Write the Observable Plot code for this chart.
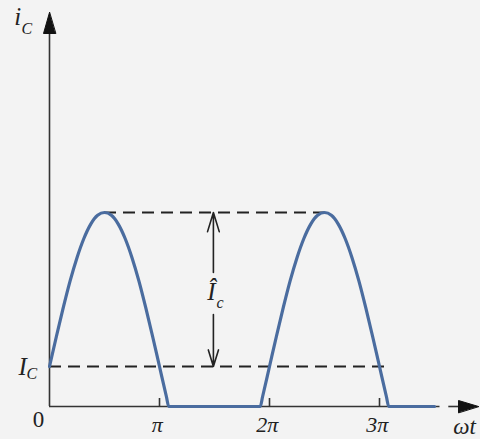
<!DOCTYPE html>
<html><head><meta charset="utf-8">
<script src="https://cdn.jsdelivr.net/npm/d3@7"></script>
<script src="https://cdn.jsdelivr.net/npm/@observablehq/plot@0.6"></script>
<style>
html,body{margin:0;padding:0;background:#f3f3f3;}
svg{display:block;}
</style></head><body><div id="chart"></div>
<script>
// ωt in units of π ; collector current in units of I_C
const curveWt = [0,0.0625,0.125,0.1875,0.25,0.3125,0.375,0.4375,0.5,0.5625,0.625,0.6875,0.75,0.8125,0.875,0.9375,1,1.0625,1.084,
  1.916,1.9375,2,2.0625,2.125,2.1875,2.25,2.3125,2.375,2.4375,2.5,2.5625,2.625,2.6875,2.75,2.8125,2.875,2.9375,3,3.0625,3.084,3.5];
const curveIc = [1,1.75,2.47,3.14,3.72,4.2,4.56,4.78,4.85,4.78,4.56,4.2,3.72,3.14,2.47,1.75,1,0.25,0,
  0,0.25,1,1.75,2.47,3.14,3.72,4.2,4.56,4.78,4.85,4.78,4.56,4.2,3.72,3.14,2.47,1.75,1,0.25,0,0];

const quiescent = 1;          // I_C level
const peak = 4.85;            // I_C + Î_c
const peakSpan = [0.5, 2.5];  // dashed peak line extent
const quiescentSpan = [0, 3.1];
const tickValues = [1, 2, 3];
const tickLabels = ["π", "2π", "3π"];
const ampArrowWt = 1.49;
const ampGap = [2.3, 3.35];

// axis geometry (data units)
const xAxisEnd = 3.55, xDash = [3.63, 3.73], xArrowTip = 3.9;
const yAxisEnd = 9.4, yArrowTip = 9.85;

const W = 480, H = 439;
const x0 = 49, xUnit = 110, y0 = 406, yUnit = 40;

const font = "Liberation Serif, Times New Roman, serif";
const ink = "#222";

const curve = curveWt.map((w, i) => ({w, i: curveIc[i]}));

const arrowHead = {
  draw(context, l, r) {
    context.moveTo(0, -l);
    context.lineTo(-r, 0);
    context.lineTo(r, 0);
    context.closePath();
  }
};

const bigLabels = [
  {x: -0.29, y: 9.73, t: "i"},
  {x: -0.245, y: 1.0, t: "I"},
  {x: 1.473, y: 2.86, t: "Î"}
];
const subLabels = [
  {x: -0.205, y: 9.43, t: "C"},
  {x: -0.16, y: 0.82, t: "C"},
  {x: 1.55, y: 2.6, t: "c"}
];
const originLabel = [{x: -0.1, y: -0.33, t: "0"}];
const tickLabelData = tickValues.map((v, k) => ({x: v - 0.02, y: -0.45, t: tickLabels[k]}));
const axisLabel = [{x: 3.67, y: -0.5, t: "ωt"}];

const chart = Plot.plot({
  width: W, height: H,
  marginLeft: x0, marginRight: 1, marginTop: 0, marginBottom: H - y0,
  style: {background: "transparent", overflow: "visible"},
  x: {domain: [0, (W - x0 - 1) / xUnit], axis: null},
  y: {domain: [0, y0 / yUnit], axis: null},
  marks: [
    Plot.ruleY([peak], {x1: peakSpan[0], x2: peakSpan[1], stroke: ink, strokeWidth: 1.8, strokeDasharray: "12,7"}),
    Plot.ruleY([quiescent], {x1: quiescentSpan[0], x2: quiescentSpan[1], stroke: ink, strokeWidth: 1.8, strokeDasharray: "12,7"}),
    Plot.ruleY([0], {x1: 0, x2: xAxisEnd, stroke: "#333", strokeWidth: 1.6}),
    Plot.ruleY([0], {x1: xDash[0], x2: xDash[1], stroke: "#333", strokeWidth: 1.6}),
    Plot.ruleX([0], {y1: 0, y2: yAxisEnd, stroke: "#333", strokeWidth: 1.6}),
    Plot.ruleX(tickValues, {y1: 0, y2: 0.2, stroke: "#333", strokeWidth: 1.6}),
    Plot.vector([{x: xArrowTip, y: 0}], {x: "x", y: "y", rotate: 90, length: 20, r: 6, anchor: "end", shape: arrowHead, fill: "#111", stroke: "#111", strokeWidth: 1}),
    Plot.vector([{x: 0, y: yArrowTip}], {x: "x", y: "y", rotate: 0, length: 21, r: 6, anchor: "end", shape: arrowHead, fill: "#111", stroke: "#111", strokeWidth: 1}),
    Plot.arrow([{y1: ampGap[1], y2: peak}, {y1: ampGap[0], y2: quiescent}], {x: ampArrowWt, y1: "y1", y2: "y2", stroke: ink, strokeWidth: 1.6, headLength: 20, headAngle: 34}),
    Plot.line(curve, {x: "w", y: "i", curve: "monotone-x", stroke: "#4a6c9f", strokeWidth: 3.2}),
    Plot.text(bigLabels, {x: "x", y: "y", text: "t", fontSize: 25, fontStyle: "italic", fontFamily: font, fill: ink}),
    Plot.text(subLabels, {x: "x", y: "y", text: "t", fontSize: 16, fontStyle: "italic", fontFamily: font, fill: ink}),
    Plot.text(originLabel, {x: "x", y: "y", text: "t", fontSize: 23, fontFamily: font, fill: ink}),
    Plot.text(tickLabelData, {x: "x", y: "y", text: "t", fontSize: 22, fontStyle: "italic", fontFamily: font, fill: ink}),
    Plot.text(axisLabel, {x: "x", y: "y", text: "t", textAnchor: "start", fontSize: 23, fontStyle: "italic", fontFamily: font, fill: ink})
  ]
});
document.getElementById("chart").append(chart);
</script>
</body></html>
